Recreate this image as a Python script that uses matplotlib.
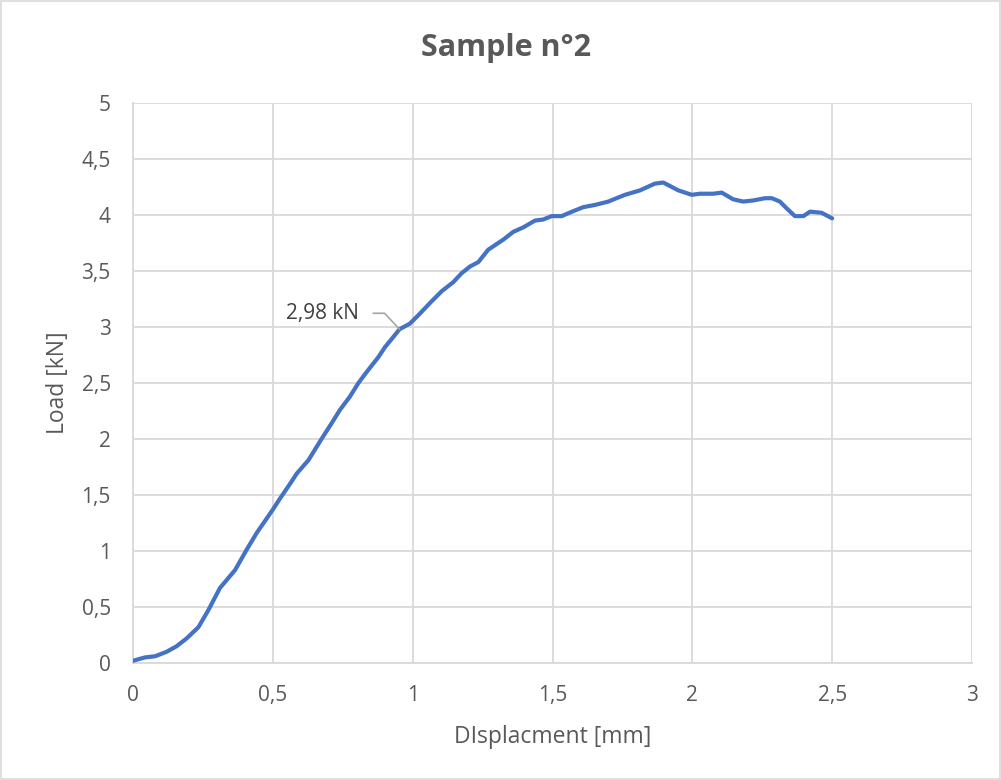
import matplotlib
matplotlib.use("Agg")
import matplotlib.pyplot as plt
from matplotlib.patches import Rectangle
from matplotlib.ticker import FuncFormatter

# Load–displacement record for sample 2
displacement_mm = [
    0.000, 0.043, 0.079, 0.120, 0.156, 0.192, 0.234, 0.269, 0.311, 0.365,
    0.406, 0.442, 0.478, 0.500, 0.526, 0.567, 0.585, 0.627, 0.669, 0.710,
    0.740, 0.776, 0.806, 0.836, 0.877, 0.901, 0.937, 0.953, 0.990, 1.026,
    1.068, 1.104, 1.145, 1.175, 1.205, 1.235, 1.270, 1.294, 1.324, 1.360,
    1.396, 1.437, 1.467, 1.497, 1.533, 1.551, 1.580, 1.610, 1.652, 1.700,
    1.729, 1.759, 1.813, 1.866, 1.896, 1.950, 1.998, 2.027, 2.075, 2.105,
    2.146, 2.182, 2.218, 2.260, 2.284, 2.313, 2.337, 2.367, 2.397, 2.421,
    2.462, 2.500,
]
load_kN = [
    0.02, 0.05, 0.06, 0.10, 0.15, 0.22, 0.32, 0.47, 0.67, 0.83,
    1.01, 1.16, 1.29, 1.37, 1.47, 1.62, 1.69, 1.81, 1.98, 2.14,
    2.26, 2.38, 2.50, 2.60, 2.73, 2.82, 2.93, 2.98, 3.03, 3.12,
    3.23, 3.32, 3.40, 3.48, 3.54, 3.58, 3.69, 3.73, 3.78, 3.85,
    3.89, 3.95, 3.96, 3.99, 3.99, 4.01, 4.04, 4.07, 4.09, 4.12,
    4.15, 4.18, 4.22, 4.28, 4.29, 4.22, 4.18, 4.19, 4.19, 4.20,
    4.14, 4.12, 4.13, 4.15, 4.15, 4.12, 4.06, 3.99, 3.99, 4.03,
    4.02, 3.97,
]
x_ticks = [0, 0.5, 1, 1.5, 2, 2.5, 3]
y_ticks = [0, 0.5, 1, 1.5, 2, 2.5, 3, 3.5, 4, 4.5, 5]
marked_load = 2.98

title_text = "Sample n°2"
x_label = "DIsplacment [mm]"
y_label = "Load [kN]"

plt.rcParams["font.family"] = ["Open Sans", "DejaVu Sans"]
text_gray = "#595959"
grid_gray = "#d9d9d9"
line_blue = "#4472C4"

fig = plt.figure(figsize=(10.01, 7.80), dpi=100)
ax = fig.add_axes([133 / 1001, 117 / 780, 839 / 1001, 560 / 780])

ax.plot(displacement_mm, load_kN, color=line_blue, lw=3.0,
        solid_joinstyle="round", solid_capstyle="round", zorder=3)

ax.set_xlim(0, 3)
ax.set_ylim(0, 5)
ax.set_xticks(x_ticks)
ax.set_yticks(y_ticks)

def comma_fmt(v, _pos):
    s = f"{v:g}"
    return s.replace(".", ",")

ax.xaxis.set_major_formatter(FuncFormatter(comma_fmt))
ax.yaxis.set_major_formatter(FuncFormatter(comma_fmt))
ax.grid(True, color=grid_gray, lw=1.3, zorder=0)
ax.set_axisbelow(True)
for side in ["top", "right"]:
    ax.spines[side].set_visible(False)
for side in ["left", "bottom"]:
    ax.spines[side].set_color(grid_gray)
    ax.spines[side].set_linewidth(1.3)
ax.tick_params(axis="both", length=0, labelsize=15, labelcolor=text_gray)
ax.tick_params(axis="x", pad=16)
ax.tick_params(axis="y", pad=16)

ax.set_xlabel(x_label, fontsize=16.5, color=text_gray)
ax.set_ylabel(y_label, fontsize=16.5, color=text_gray)
ax.xaxis.set_label_coords(0.5, -(737 - 663) / 560, transform=ax.transAxes)
ax.yaxis.set_label_coords(-(133 - 58) / 839, 0.5, transform=ax.transAxes)
ax.xaxis.label.set_va("center")
ax.yaxis.label.set_va("center")
fig.text(506 / 1001, 1 - 48 / 780, title_text, ha="center", va="center",
         fontsize=22, fontweight="bold", color=text_gray)

# Data label with a leader line on the marked point
idx = load_kN.index(marked_load)
ax.annotate(
    comma_fmt(load_kN[idx], None) + " kN",
    xy=(displacement_mm[idx], load_kN[idx]),
    xytext=(-29, 11.5), textcoords="offset points",
    ha="right", va="center", fontsize=15, color="#404040",
    arrowprops=dict(arrowstyle="-", color="#a6a6a6", lw=1.2,
                    shrinkA=8, shrinkB=0, relpos=(1, 0.5),
                    connectionstyle="angle,angleA=0,angleB=133,rad=0"),
    zorder=4,
)

# Chart frame
fig.patches.append(Rectangle((0.001, 0.001), 0.998, 0.998, transform=fig.transFigure,
                             fill=False, edgecolor=grid_gray, lw=1.2))

fig.savefig("out.png", dpi=100, facecolor="white")
